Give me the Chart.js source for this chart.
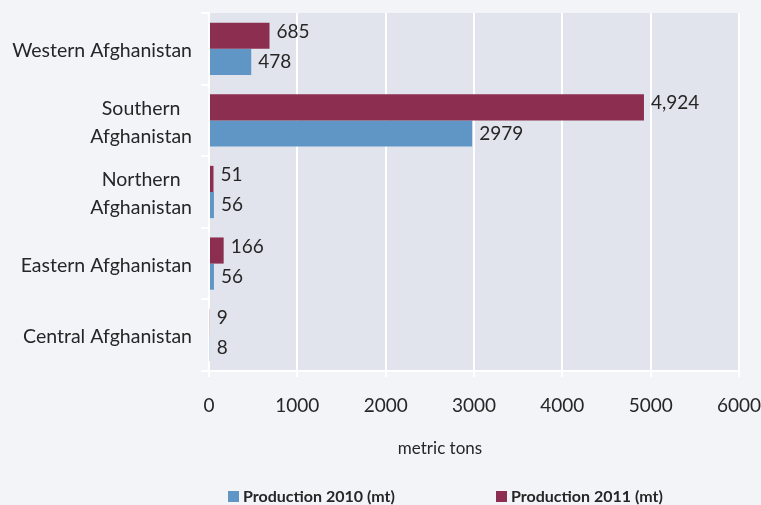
<!DOCTYPE html>
<html>
<head>
<meta charset="utf-8">
<script src="https://cdn.jsdelivr.net/npm/chart.js@4/dist/chart.umd.min.js"></script>
<style>
  body { margin: 0; background: #f3f4f8; }
  canvas { display: block; }
</style>
</head>
<body>
<canvas id="prodChart" width="761" height="505"></canvas>
<script>
// categories, top to bottom
const regions = [
    ['Western Afghanistan'],
    ['Southern', 'Afghanistan'],
    ['Northern', 'Afghanistan'],
    ['Eastern Afghanistan'],
    ['Central Afghanistan']
];
const prod2010 = [478, 2979, 56, 56, 8];
const prod2011 = [685, 4924, 51, 166, 9];
// labels as printed on the chart
const labels2010 = ['478', '2979', '56', '56', '8'];
const labels2011 = ['685', '4,924', '51', '166', '9'];
const xTicks = [0, 1000, 2000, 3000, 4000, 5000, 6000];

const FONT = "Lato, 'Open Sans', sans-serif";
const TEXT = '#262626';
const BLUE = '#6096c6';
const MAROON = '#8b2e4f';

// gray plot background
const plotBg = {
    id: 'plotBg',
    beforeDraw(chart) {
        const {ctx, chartArea: a} = chart;
        ctx.save();
        ctx.fillStyle = '#e1e4ec';
        ctx.fillRect(a.left, a.top, a.right - a.left, a.bottom - a.top);
        ctx.restore();
    }
};

// value labels next to the bars
const valueLabels = {
    id: 'valueLabels',
    afterDatasetsDraw(chart) {
        const ctx = chart.ctx;
        ctx.save();
        ctx.font = '19px ' + FONT;
        ctx.fillStyle = TEXT;
        ctx.textAlign = 'left';
        ctx.textBaseline = 'middle';
        chart.data.datasets.forEach((ds, d) => {
            const meta = chart.getDatasetMeta(d);
            meta.data.forEach((bar, i) => {
                ctx.fillText(ds.valueText[i], bar.x + 7, bar.y + ds.labelShift);
            });
        });
        ctx.restore();
    }
};

// category labels, axis title and legend, Excel style
const extras = {
    id: 'extras',
    afterDraw(chart) {
        const ctx = chart.ctx;
        const yScale = chart.scales.y;
        ctx.save();
        ctx.fillStyle = TEXT;
        ctx.textBaseline = 'middle';
        ctx.textAlign = 'center';
        ctx.font = '19.5px ' + FONT;
        regions.forEach((lines, i) => {
            const y = yScale.getPixelForTick(i) + 2;
            const w = Math.max(...lines.map(l => ctx.measureText(l).width));
            const cx = 192 - w / 2;
            lines.forEach((l, j) => {
                ctx.fillText(l, cx, y + (j - (lines.length - 1) / 2) * 28);
            });
        });

        ctx.font = '17px ' + FONT;
        ctx.fillText('metric tons', 440, 449);

        ctx.textAlign = 'left';
        ctx.font = 'bold 16px ' + FONT;
        const legend = [
            {text: 'Production 2010 (mt)', color: BLUE, x: 228},
            {text: 'Production 2011 (mt)', color: MAROON, x: 496}
        ];
        legend.forEach(item => {
            ctx.fillStyle = item.color;
            ctx.fillRect(item.x, 491, 11, 11);
            ctx.fillStyle = TEXT;
            ctx.fillText(item.text, item.x + 15, 497);
        });
        ctx.restore();
    }
};

const ctx = document.getElementById('prodChart').getContext('2d');

const prodChart = new Chart(ctx, {
    type: 'bar',
    data: {
        labels: regions,
        datasets: [
            {
                label: 'Production 2011 (mt)',
                data: prod2011,
                valueText: labels2011,
                labelShift: -4,
                backgroundColor: MAROON
            },
            {
                label: 'Production 2010 (mt)',
                data: prod2010,
                valueText: labels2010,
                labelShift: 0,
                backgroundColor: BLUE
            }
        ]
    },
    options: {
        indexAxis: 'y',
        responsive: false,
        animation: false,
        categoryPercentage: 0.73,
        barPercentage: 1,
        layout: {
            padding: {top: 13, right: 0, bottom: 39, left: 0}
        },
        plugins: {
            legend: {display: false},
            tooltip: {enabled: false}
        },
        scales: {
            x: {
                min: 0,
                max: 6000,
                afterBuildTicks: scale => {
                    scale.ticks = xTicks.map(v => ({value: v}));
                },
                afterFit: scale => {
                    scale.height = 95;
                    scale.paddingLeft = 0;
                    scale.paddingRight = 22;
                },
                grid: {color: '#ffffff', lineWidth: 2, tickLength: 6},
                border: {color: '#ffffff', width: 2},
                ticks: {
                    color: TEXT,
                    font: {family: FONT, size: 19},
                    padding: 17,
                    maxRotation: 0,
                    callback: v => String(v)
                }
            },
            y: {
                afterFit: scale => { scale.width = 209; },
                grid: {
                    offset: true,
                    drawOnChartArea: false,
                    color: '#ffffff',
                    lineWidth: 2,
                    tickLength: 8
                },
                border: {color: '#ffffff', width: 2},
                ticks: {display: false}
            }
        }
    },
    plugins: [plotBg, valueLabels, extras]
});
</script>
</body>
</html>
